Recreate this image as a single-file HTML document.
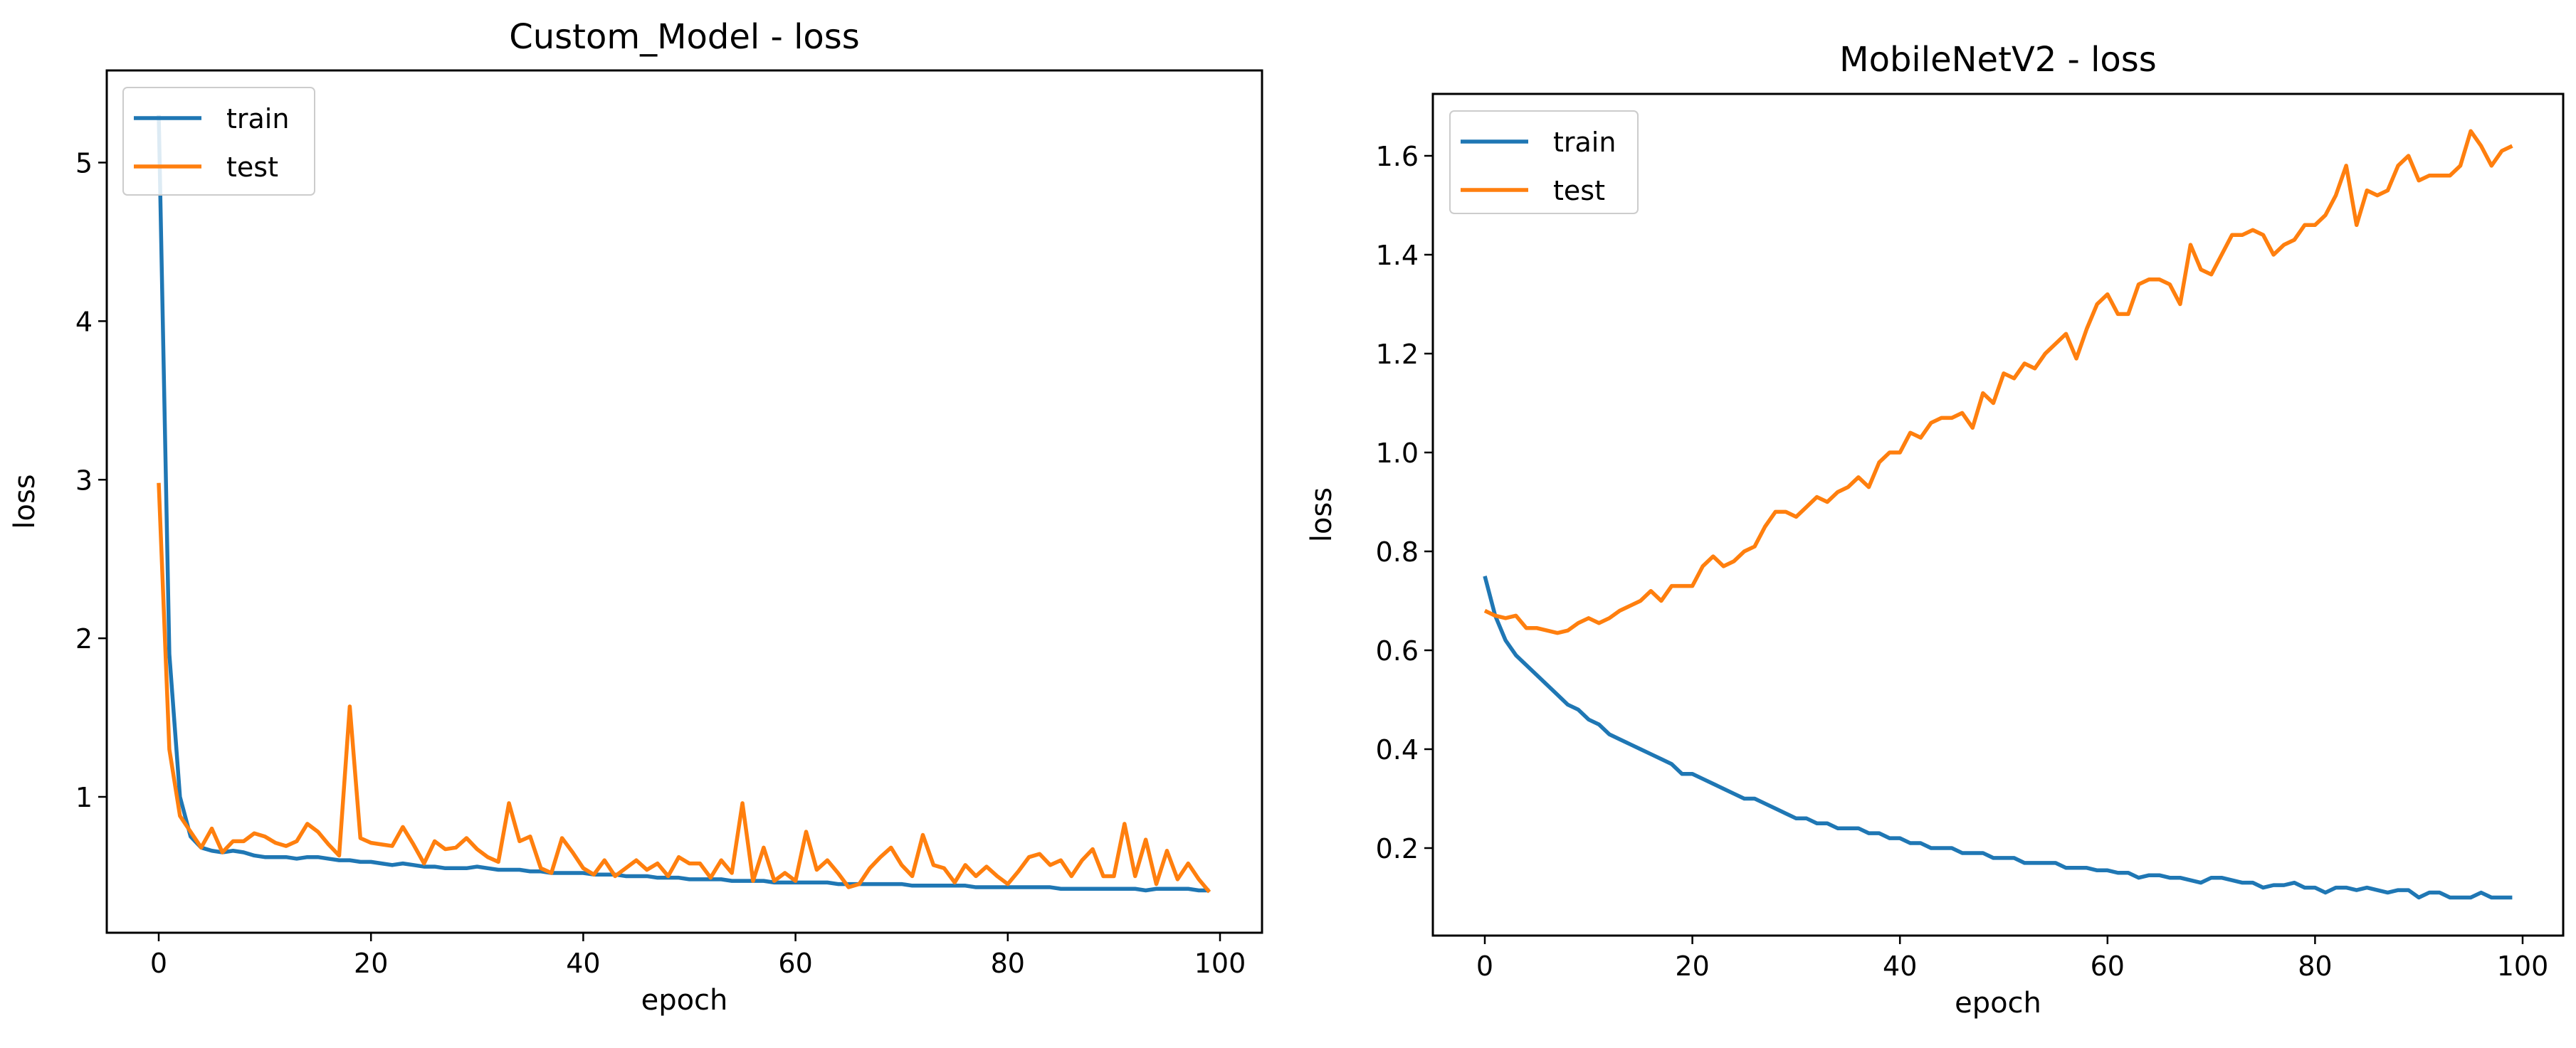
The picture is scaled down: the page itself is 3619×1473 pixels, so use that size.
<!DOCTYPE html>
<html><head><meta charset="utf-8"><style>
html,body{margin:0;padding:0;background:#fff;width:3619px;height:1473px;overflow:hidden}
svg{display:block;font-family:"DejaVu Sans","Liberation Sans",sans-serif}
</style></head><body>
<svg id="fig" width="3619" height="1473" viewBox="0 0 3619 1473" xmlns="http://www.w3.org/2000/svg"></svg>
<script>
const xTicks=[0,20,40,60,80,100];
const leftYTicks=[1,2,3,4,5];
const rightYTicks=[0.2,0.4,0.6,0.8,1.0,1.2,1.4,1.6];
const customTrain=[5.3,1.9,1.0,0.75,0.68,0.66,0.65,0.66,0.65,0.63,0.62,0.62,0.62,0.61,0.62,0.62,0.61,0.60,0.60,0.59,0.59,0.58,0.57,0.58,0.57,0.56,0.56,0.55,0.55,0.55,0.56,0.55,0.54,0.54,0.54,0.53,0.53,0.52,0.52,0.52,0.52,0.51,0.51,0.51,0.50,0.50,0.50,0.49,0.49,0.49,0.48,0.48,0.48,0.48,0.47,0.47,0.47,0.47,0.46,0.46,0.46,0.46,0.46,0.46,0.45,0.45,0.45,0.45,0.45,0.45,0.45,0.44,0.44,0.44,0.44,0.44,0.44,0.43,0.43,0.43,0.43,0.43,0.43,0.43,0.43,0.42,0.42,0.42,0.42,0.42,0.42,0.42,0.42,0.41,0.42,0.42,0.42,0.42,0.41,0.41];
const customTest=[2.98,1.3,0.88,0.78,0.68,0.8,0.65,0.72,0.72,0.77,0.75,0.71,0.69,0.72,0.83,0.78,0.7,0.63,1.57,0.74,0.71,0.7,0.69,0.81,0.7,0.58,0.72,0.67,0.68,0.74,0.67,0.62,0.59,0.96,0.72,0.75,0.55,0.52,0.74,0.65,0.55,0.51,0.6,0.5,0.55,0.6,0.54,0.58,0.5,0.62,0.58,0.58,0.49,0.6,0.52,0.96,0.47,0.68,0.47,0.52,0.47,0.78,0.54,0.6,0.52,0.43,0.45,0.55,0.62,0.68,0.57,0.5,0.76,0.57,0.55,0.46,0.57,0.5,0.56,0.5,0.45,0.53,0.62,0.64,0.57,0.6,0.5,0.6,0.67,0.5,0.5,0.83,0.5,0.73,0.45,0.66,0.48,0.58,0.48,0.4];
const mobileTrain=[0.75,0.67,0.62,0.59,0.57,0.55,0.53,0.51,0.49,0.48,0.46,0.45,0.43,0.42,0.41,0.40,0.39,0.38,0.37,0.35,0.35,0.34,0.33,0.32,0.31,0.30,0.30,0.29,0.28,0.27,0.26,0.26,0.25,0.25,0.24,0.24,0.24,0.23,0.23,0.22,0.22,0.21,0.21,0.20,0.20,0.20,0.19,0.19,0.19,0.18,0.18,0.18,0.17,0.17,0.17,0.17,0.16,0.16,0.16,0.155,0.155,0.15,0.15,0.14,0.145,0.145,0.14,0.14,0.135,0.13,0.14,0.14,0.135,0.13,0.13,0.12,0.125,0.125,0.13,0.12,0.12,0.11,0.12,0.12,0.115,0.12,0.115,0.11,0.115,0.115,0.10,0.11,0.11,0.10,0.10,0.10,0.11,0.10,0.10,0.10];
const mobileTest=[0.68,0.67,0.665,0.67,0.645,0.645,0.64,0.635,0.64,0.655,0.665,0.655,0.665,0.68,0.69,0.70,0.72,0.70,0.73,0.73,0.73,0.77,0.79,0.77,0.78,0.80,0.81,0.85,0.88,0.88,0.87,0.89,0.91,0.90,0.92,0.93,0.95,0.93,0.98,1.00,1.00,1.04,1.03,1.06,1.07,1.07,1.08,1.05,1.12,1.10,1.16,1.15,1.18,1.17,1.20,1.22,1.24,1.19,1.25,1.30,1.32,1.28,1.28,1.34,1.35,1.35,1.34,1.30,1.42,1.37,1.36,1.40,1.44,1.44,1.45,1.44,1.40,1.42,1.43,1.46,1.46,1.48,1.52,1.58,1.46,1.53,1.52,1.53,1.58,1.60,1.55,1.56,1.56,1.56,1.58,1.65,1.62,1.58,1.61,1.62];

const svg=document.getElementById('fig');
const NS='http://www.w3.org/2000/svg';
function mk(tag,attrs,parent){const e=document.createElementNS(NS,tag);for(const k in attrs)e.setAttribute(k,attrs[k]);(parent||svg).appendChild(e);return e;}

function chart(cfg){
  const g=mk('g',{});
  
  
  const sx=v=>cfg.x0+(v-0)*(cfg.x100-cfg.x0)/100;
  const sy=v=>cfg.yA+(v-cfg.vA)*(cfg.yB-cfg.yA)/(cfg.vB-cfg.vA);
  const t=mk('text',{x:(cfg.L+cfg.R)/2,y:cfg.titleY,'font-size':48,'text-anchor':'middle'},g);
  t.textContent=cfg.title;
  
  
  function line(arr,color,nm){
    const p=mk('polyline',{points:arr.map((v,i)=>sx(i)+','+sy(v)).join(' '),fill:'none',stroke:color,'stroke-width':5.5,'stroke-linejoin':'round'},g);
    
    
  }
  line(cfg.train,'#1f77b4','train-line');
  line(cfg.test,'#ff7f0e','test-line');
  const f=mk('rect',{x:cfg.L,y:cfg.T,width:cfg.R-cfg.L,height:cfg.B-cfg.T,fill:'none',stroke:'#000','stroke-width':3},g);
  
  
  xTicks.forEach(v=>{
    mk('line',{x1:sx(v),x2:sx(v),y1:cfg.B,y2:cfg.B+12,stroke:'#000','stroke-width':2.5},g);
    const l=mk('text',{x:sx(v),y:cfg.B+56,'font-size':38,'text-anchor':'middle'},g);
    l.textContent=v;
    
    
  });
  cfg.yTicks.forEach(v=>{
    mk('line',{x1:cfg.L-12,x2:cfg.L,y1:sy(v),y2:sy(v),stroke:'#000','stroke-width':2.5},g);
    const l=mk('text',{x:cfg.L-20,y:sy(v)+14,'font-size':38,'text-anchor':'end'},g);
    l.textContent=cfg.fmt(v);
    
    
  });
  const xl=mk('text',{x:(cfg.L+cfg.R)/2,y:cfg.B+108,'font-size':40,'text-anchor':'middle'},g);
  xl.textContent='epoch';
  
  
  const yx=cfg.yLabelX, yy=(cfg.T+cfg.B)/2;
  const yl=mk('text',{x:yx,y:yy,'font-size':40,'text-anchor':'middle',transform:`rotate(-90 ${yx} ${yy})`},g);
  yl.textContent='loss';
  
  
  const lg=mk('g',{},g);
  
  
  mk('rect',{x:cfg.lgx,y:cfg.lgy,width:cfg.lgw,height:cfg.lgh,rx:6,fill:'#fff','fill-opacity':0.85,stroke:'#ccc','stroke-width':2},lg);
  [['train','#1f77b4'],['test','#ff7f0e']].forEach((e,i)=>{
    const yy2=cfg.lgy+43+i*68;
    mk('line',{x1:cfg.lgx+15,x2:cfg.lgx+110,y1:yy2,y2:yy2,stroke:e[1],'stroke-width':5.5},lg);
    const tx=mk('text',{x:cfg.lgx+145,y:yy2+14,'font-size':38},lg);
    tx.textContent=e[0];
    
    
  });
}

chart({name:'custom-model-loss-chart',title:'Custom_Model - loss',L:150,R:1773,T:99,B:1311,titleY:68,
  x0:223,x100:1714,yA:1120,vA:1,yB:228.5,vB:5,yTicks:leftYTicks,fmt:v=>String(v),
  train:customTrain,test:customTest,yLabelX:48,lgx:173,lgy:123,lgw:269,lgh:151});
chart({name:'mobilenetv2-loss-chart',title:'MobileNetV2 - loss',L:2013,R:3601,T:132,B:1315,titleY:100,
  x0:2086,x100:3544,yA:1192,vA:0.2,yB:219,vB:1.6,yTicks:rightYTicks,fmt:v=>v.toFixed(1),
  train:mobileTrain,test:mobileTest,yLabelX:1870,lgx:2037,lgy:156,lgw:264,lgh:144});
</script>
</body></html>
